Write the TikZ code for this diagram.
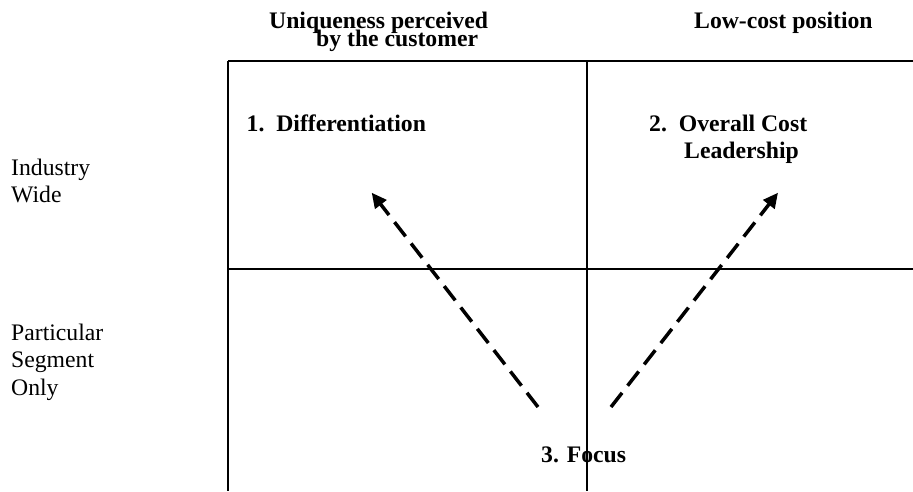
\documentclass[tikz,border=0pt]{standalone}
\usepackage{fontspec}
\setmainfont{Liberation Serif}
\usetikzlibrary{arrows.meta}
\begin{document}
\begin{tikzpicture}[x=1pt,y=-1pt,
  gridline/.style={line width=2pt,black},
  lbl/.style={inner sep=0pt,anchor=base west,font=\fontsize{23.7}{27.5}\selectfont},
  blbl/.style={lbl,font=\fontsize{23.7}{27.5}\selectfont\bfseries},
  dasharrow/.style={line width=3.5pt,dash pattern=on 18pt off 9pt,
    -{Triangle[length=15pt,width=14pt]}}]
\useasboundingbox (0,0) rectangle (913,491);
% grid
\coordinate (tl) at (228,61);
\coordinate (tm) at (587,61);
\coordinate (tr) at (913,61);
\coordinate (ml) at (228,269);
\coordinate (mr) at (913,269);
\coordinate (bl) at (228,491);
\coordinate (bm) at (587,491);
\draw[gridline] (tl) -- (tr);
\draw[gridline] (ml) -- (mr);
\draw[gridline] (tl) -- (bl);
\draw[gridline] (tm) -- (bm);
% headings
\node[blbl] (h1) at (269,28) {\vtop{\baselineskip=18.7pt\lineskiplimit=-100pt\lineskip=0pt
  \hbox{Uniqueness perceived}\hbox{\hspace*{47pt}by the customer}}};
\node[blbl] (h2) at (694,28) {Low-cost position};
% row labels
\node[lbl] (r1a) at (11,175) {Industry};
\node[lbl] (r1b) at (11,202.7) {Wide};
\node[lbl] (r2a) at (11,340) {Particular};
\node[lbl] (r2b) at (11,367.7) {Segment};
\node[lbl] (r2c) at (11,395) {Only};
% cell labels
\node[blbl] (diff) at (246.5,131.7) {1.\ \ Differentiation};
\node[blbl] (cost1) at (649,131.7) {2.\ \ Overall Cost};
\node[blbl] (cost2) at (684,158.3) {Leadership};
\node[blbl] (focus) at (541,462.3) {3. Focus};
% arrows
\coordinate (la) at (538,407);
\coordinate (lb) at (371.7,192.7);
\coordinate (ra) at (611,407);
\coordinate (rb) at (778,192.7);
\draw[dasharrow] (la) -- (lb);
\draw[dasharrow] (ra) -- (rb);
\end{tikzpicture}
\end{document}
